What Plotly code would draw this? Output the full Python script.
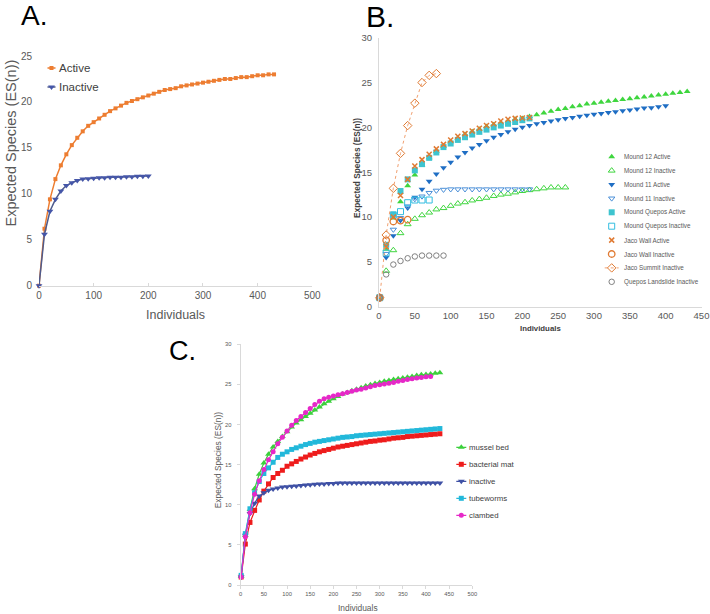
import plotly.graph_objects as go

W, H = 710, 614
FONT = "Liberation Sans, Arial, sans-serif"

# ---------------- Panel A data ----------------
A_X = [0, 10, 20, 30, 40, 50, 60, 70, 80, 90, 100, 110, 120, 130, 140, 150, 160, 170, 180, 190,
       200, 210, 220, 230, 240, 250, 260, 270, 280, 290, 300, 310, 320, 330, 340, 350, 360, 370,
       380, 390, 400, 410, 420, 430]
A_ACTIVE = [0, 6.2, 9.4, 11.6, 13.1, 14.3, 15.3, 16.1, 16.8, 17.4, 17.8, 18.2, 18.6, 19.0, 19.3,
            19.6, 19.9, 20.1, 20.3, 20.5, 20.7, 20.9, 21.1, 21.3, 21.4, 21.5, 21.7, 21.8, 21.9,
            22.0, 22.1, 22.2, 22.3, 22.4, 22.5, 22.5, 22.6, 22.7, 22.7, 22.8, 22.9, 22.9, 23.0, 23.0]
A_INACTIVE = [0, 5.6, 8.1, 9.4, 10.3, 10.9, 11.2, 11.45, 11.6, 11.65, 11.7, 11.75, 11.75, 11.8,
              11.8, 11.8, 11.85, 11.85, 11.9, 11.9, 11.95]
A_LABELS = ["Active", "Inactive"]

# ---------------- Panel B data ----------------
B_X = [1, 10, 20, 30, 40, 50, 60, 70, 80, 90, 100, 110, 120, 130, 140, 150, 160, 170, 180, 190,
       200, 210, 220, 230, 240, 250, 260, 270, 280, 290, 300, 310, 320, 330, 340, 350, 360, 370,
       380, 390, 400, 410, 420, 430]
B_M12_ACTIVE = [1, 6.4, 9.9, 11.7, 13.5, 14.7, 15.8, 16.6, 17.3, 17.9, 18.4, 18.8, 19.2, 19.5,
                19.8, 20.1, 20.3, 20.5, 20.7, 20.9, 21.0, 21.2, 21.4, 21.6, 21.8, 22.0, 22.1,
                22.3, 22.4, 22.6, 22.7, 22.8, 22.9, 23.0, 23.1, 23.2, 23.3, 23.4, 23.5, 23.6,
                23.7, 23.8, 23.9, 24.0]
B_M12_INACTIVE = [1, 4.0, 6.3, 8.2, 9.2, 9.8, 10.2, 10.5, 10.85, 11.0, 11.25, 11.5, 11.65, 11.85,
                  12.0, 12.15, 12.35, 12.5, 12.6, 12.75, 12.9, 13.0, 13.1, 13.2, 13.3, 13.3, 13.3]
B_M11_ACTIVE = [1, 5.5, 7.9, 9.6, 11.0, 12.2, 13.1, 14.0, 14.8, 15.5, 16.1, 16.7, 17.2, 17.7,
                18.1, 18.5, 18.9, 19.2, 19.5, 19.8, 20.0, 20.2, 20.4, 20.55, 20.7, 20.85, 21.0,
                21.1, 21.25, 21.35, 21.45, 21.55, 21.65, 21.75, 21.85, 21.95, 22.05, 22.15, 22.2,
                22.3, 22.4]
B_M11_INACTIVE = [1, 5.9, 8.6, 9.9, 11.2, 12.0, 12.3, 12.7, 12.95, 13.05, 13.1, 13.1, 13.1, 13.1,
                  13.1, 13.1, 13.1, 13.1, 13.1, 13.1, 13.1, 13.1]
B_MQ_ACTIVE = [1, 6.9, 10.3, 12.9, 14.2, 15.2, 15.9, 16.6, 17.2, 17.8, 18.2, 18.6, 18.9, 19.2,
               19.5, 19.75, 20.0, 20.2, 20.4, 20.6, 20.8, 21.0]
B_MQ_INACTIVE = [1, 6.0, 10.2, 10.6, 11.6, 11.9, 11.9, 11.9]
B_JW_ACTIVE = [1, 6.7, 10.0, 12.4, 14.2, 15.7, 16.4, 17.0, 17.6, 18.1, 18.6, 19.0, 19.3, 19.6,
               19.9, 20.2, 20.4, 20.7, 20.9, 21.0, 21.05, 21.1]
B_JW_INACTIVE = [1, 7.4, 9.5, 9.6, 9.7]
B_JS_INACTIVE = [1, 8.0, 13.2, 17.1, 20.2, 22.7, 25.0, 25.8, 26.0]
B_QL_INACTIVE = [1, 3.6, 4.7, 5.1, 5.4, 5.6, 5.7, 5.7, 5.7, 5.7]
B_LABELS = ["Mound 12 Active", "Mound 12 Inactive", "Mound 11 Active", "Mound 11 Inactive",
            "Mound Quepos Active", "Mound Quepos Inactive", "Jaco Wall Active",
            "Jaco Wall Inactive", "Jaco Summit Inactive", "Quepos Landslide Inactive"]

# ---------------- Panel C data ----------------
C_X = B_X
C_MUSSEL = [1.1, 6.2, 9.4, 12.0, 13.8, 15.2, 16.3, 17.2, 17.9, 18.5, 19.1, 19.7, 20.2, 20.6,
            21.0, 21.4, 21.8, 22.2, 22.6, 22.9, 23.2, 23.5, 23.8, 24.0, 24.2, 24.4, 24.6, 24.8,
            24.95, 25.1, 25.25, 25.4, 25.5, 25.6, 25.7, 25.8, 25.9, 26.0, 26.1, 26.2, 26.25,
            26.3, 26.4, 26.45]
C_BACTERIAL = [1.0, 5.1, 7.8, 9.3, 10.6, 11.7, 12.6, 13.4, 13.9, 14.3, 14.8, 15.1, 15.4, 15.7,
               15.95, 16.2, 16.4, 16.6, 16.75, 16.9, 17.05, 17.2, 17.3, 17.4, 17.5, 17.6, 17.7,
               17.8, 17.9, 17.95, 18.05, 18.1, 18.2, 18.3, 18.35, 18.4, 18.5, 18.55, 18.6, 18.65,
               18.7, 18.75, 18.8, 18.85]
C_INACTIVE = [1.0, 6.2, 8.9, 10.2, 11.1, 11.5, 11.8, 11.95, 12.1, 12.2, 12.25, 12.3, 12.35, 12.4,
              12.45, 12.5, 12.55, 12.6, 12.6, 12.65, 12.65, 12.7, 12.7, 12.7, 12.7, 12.7, 12.7,
              12.7, 12.7, 12.7, 12.7, 12.7, 12.7, 12.7, 12.7, 12.7, 12.7, 12.7, 12.7, 12.7, 12.7,
              12.7, 12.7, 12.7]
C_TUBEWORMS = [1.2, 6.4, 9.5, 11.5, 12.9, 13.9, 14.6, 15.3, 15.9, 16.3, 16.6, 16.9, 17.1, 17.3,
               17.5, 17.65, 17.8, 17.9, 18.0, 18.1, 18.2, 18.3, 18.4, 18.45, 18.5, 18.6, 18.65,
               18.7, 18.75, 18.8, 18.85, 18.9, 18.95, 19.0, 19.05, 19.1, 19.15, 19.2, 19.25, 19.3,
               19.35, 19.4, 19.45, 19.5]
C_CLAMBED = [1.0, 6.0, 9.0, 11.3, 13.0, 14.4, 15.6, 16.6, 17.6, 18.4, 19.2, 19.9, 20.5, 21.0,
             21.5, 22.0, 22.5, 22.9, 23.2, 23.4, 23.55, 23.7, 23.85, 24.0, 24.15, 24.3, 24.4,
             24.55, 24.7, 24.85, 24.95, 25.05, 25.15, 25.25, 25.4, 25.5, 25.6, 25.7, 25.8, 25.85,
             25.95, 26.0]
C_LABELS = ["mussel bed", "bacterial mat", "inactive", "tubeworms", "clambed"]


def fx(px):
    return px / W


def fy(py):
    return 1 - py / H


def mk(symbol, color, size, lw=1.0):
    return dict(symbol=symbol, color=color, size=size, line=dict(width=lw, color=color))


# styles (marker, line or None)
A_STYLES = [
    (mk("square", "#ED7D31", 4, 0), dict(color="#ED7D31", width=1.5)),
    (mk("triangle-down", "#4556A8", 6, 0), dict(color="#4F5B8C", width=1.5)),
]
GREEN, BLUE1, BLUE2, CYAN1, CYAN2, ORANGE, GREY = ("#3FD63F", "#1F6EC4", "#4A8FD8", "#3EC4CF",
                                                   "#33BDE0", "#E07A32", "#808080")
B_STYLES = [
    (mk("triangle-up", GREEN, 6, 0), None),
    (mk("triangle-up-open", GREEN, 6), None),
    (mk("triangle-down", BLUE1, 6, 0), None),
    (mk("triangle-down-open", BLUE2, 5.5), None),
    (mk("square", CYAN1, 6, 0), None),
    (mk("square-open", CYAN2, 6), None),
    (mk("x-thin-open", ORANGE, 5, 1.5), None),
    (mk("circle-open", ORANGE, 6.5, 1.3), None),
    (mk("diamond-open", ORANGE, 6.5), dict(color="#F0A070", width=1, dash="dot")),
    (mk("circle-open", GREY, 5.5), None),
]
B_SERIES = [B_M12_ACTIVE, B_M12_INACTIVE, B_M11_ACTIVE, B_M11_INACTIVE, B_MQ_ACTIVE,
            B_MQ_INACTIVE, B_JW_ACTIVE, B_JW_INACTIVE, B_JS_INACTIVE, B_QL_INACTIVE]
C_STYLES = [
    (mk("triangle-up", "#3CD03C", 6, 0), dict(color="#3CD03C", width=1.2)),
    (mk("square", "#EE1C1C", 5, 0), dict(color="#EE1C1C", width=1.2)),
    (mk("triangle-down", "#3F51A5", 6, 0), dict(color="#3F51A5", width=1.2)),
    (mk("square", "#22B8DA", 5, 0), dict(color="#22B8DA", width=1.2)),
    (mk("circle", "#E628C8", 5, 0), dict(color="#E628C8", width=1.2)),
]
C_SERIES = [C_MUSSEL, C_BACTERIAL, C_INACTIVE, C_TUBEWORMS, C_CLAMBED]

fig = go.Figure()

# ---- Panel A traces ----
for lab, ys, (m, ln) in zip(A_LABELS, [A_ACTIVE, A_INACTIVE], A_STYLES):
    fig.add_trace(go.Scatter(x=A_X[:len(ys)], y=ys, name=lab, mode="lines+markers", marker=m,
                             line=ln, xaxis="x", yaxis="y", cliponaxis=False, showlegend=False))

# ---- Panel B traces ----
for lab, ys, (m, ln) in zip(B_LABELS, B_SERIES, B_STYLES):
    fig.add_trace(go.Scatter(x=B_X[:len(ys)], y=ys, name=lab,
                             mode="lines+markers" if ln else "markers", marker=m,
                             line=ln if ln else None, xaxis="x2", yaxis="y2", cliponaxis=False,
                             showlegend=False))

# ---- Panel C traces ----
for lab, ys, (m, ln) in zip(C_LABELS, C_SERIES, C_STYLES):
    fig.add_trace(go.Scatter(x=C_X[:len(ys)], y=ys, name=lab, mode="lines+markers", marker=m,
                             line=ln, xaxis="x3", yaxis="y3", cliponaxis=False, showlegend=False))

annotations = []


def add_legend(idx, labels, styles, y0, dy, cx, tx, fsize, half, color):
    n = len(labels)
    fig.layout[f"xaxis{idx}"] = dict(domain=[fx(cx - 15), fx(cx + 15)], range=[-15, 15],
                                     visible=False, fixedrange=True, anchor=f"y{idx}",
                                     automargin=False)
    fig.layout[f"yaxis{idx}"] = dict(domain=[fy(y0 + (n - 0.5) * dy), fy(y0 - 0.5 * dy)],
                                     range=[n - 0.5, -0.5], visible=False, fixedrange=True,
                                     anchor=f"x{idx}", automargin=False)
    for i, (lab, (m, ln)) in enumerate(zip(labels, styles)):
        if ln is not None:
            fig.add_trace(go.Scatter(x=[-half, half], y=[i, i], mode="lines", line=ln,
                                     xaxis=f"x{idx}", yaxis=f"y{idx}", showlegend=False,
                                     hoverinfo="skip", cliponaxis=False))
        fig.add_trace(go.Scatter(x=[0], y=[i], mode="markers", marker=m, xaxis=f"x{idx}",
                                 yaxis=f"y{idx}", showlegend=False, hoverinfo="skip",
                                 cliponaxis=False))
        annotations.append(dict(text=lab, x=fx(tx), xref="paper", y=i, yref=f"y{idx}",
                                xanchor="left", yanchor="middle", showarrow=False,
                                font=dict(size=fsize, color=color, family=FONT)))


add_legend(4, A_LABELS, A_STYLES, 68, 19, 51.5, 56.5, 11.5, 4, "#404040")
add_legend(5, B_LABELS, B_STYLES, 156.7, 13.9, 611.7, 621.5, 6.3, 7, "#595959")
add_legend(6, C_LABELS, C_STYLES, 447.3, 17, 461.3, 466.5, 7.8, 5, "#404040")

TICK = "#595959"
LINE = "#D9D9D9"

fig.update_layout(
    width=W, height=H, margin=dict(l=0, r=0, t=0, b=0, pad=0), autosize=False,
    paper_bgcolor="white", plot_bgcolor="rgba(0,0,0,0)",
    font=dict(family=FONT, color=TICK),
    showlegend=False,
    xaxis=dict(domain=[fx(39), fx(312.3)], range=[0, 500], dtick=100, tick0=0, anchor="y",
               showline=True, linecolor=LINE, ticks="inside", ticklen=3, tickcolor=LINE,
               showgrid=False, zeroline=False, automargin=False,
               tickfont=dict(size=10, color=TICK)),
    yaxis=dict(domain=[fy(285.7), fy(56)], range=[0, 25], dtick=5, tick0=0, anchor="x",
               showline=False, showgrid=False, zeroline=False, ticks="", automargin=False,
               ticklabelstandoff=6, tickfont=dict(size=10, color=TICK)),
    xaxis2=dict(domain=[fx(379), fx(701.5)], range=[0, 450], dtick=50, tick0=0, anchor="y2",
                showline=True, linecolor=LINE, ticks="", showgrid=False, zeroline=False,
                automargin=False, tickfont=dict(size=9.5, color=TICK)),
    yaxis2=dict(domain=[fy(306.7), fy(37.7)], range=[0, 30], dtick=5, tick0=0, anchor="x2",
                showline=True, linecolor=LINE, ticks="", showgrid=False, zeroline=False,
                automargin=False, ticklabelstandoff=4, tickfont=dict(size=9.5, color=TICK)),
    xaxis3=dict(domain=[fx(240.7), fx(472.3)], range=[0, 500], dtick=50, tick0=0, anchor="y3",
                showline=True, linecolor=LINE, ticks="outside", ticklen=3, tickcolor=LINE,
                showgrid=False, zeroline=False, automargin=False,
                tickfont=dict(size=5.8, color=TICK)),
    yaxis3=dict(domain=[fy(585), fy(344.3)], range=[0, 30], dtick=5, tick0=0, anchor="x3",
                showline=True, linecolor=LINE, ticks="outside", ticklen=3, tickcolor=LINE,
                showgrid=False, zeroline=False, ticklabelstandoff=4, automargin=False,
                tickfont=dict(size=5.8, color=TICK)),
)


def title(text, px, py, size, color="#595959", angle=0, anchor="center"):
    annotations.append(dict(text=text, x=fx(px), y=fy(py), xref="paper", yref="paper",
                            xanchor=anchor, yanchor="middle", showarrow=False, textangle=angle,
                            font=dict(size=size, color=color, family=FONT)))


title("A.", 19, 15, 28, "black", anchor="left")
title("B.", 364, 16, 30, "black", anchor="left")
title("C.", 167, 351, 27, "black", anchor="left")
title("Expected Species (ES(n))", 10, 143.5, 14.5, angle=-90)
title("Individuals", 175.6, 315, 12.5)
title("<b>Expected Species (ES(n))</b>", 357, 168, 8.3, "#404040", angle=-90)
title("<b>Individuals</b>", 540, 328, 7.8, "#404040")
title("Expected Species (ES(n))", 218.3, 460, 8.4, angle=-90)
title("Individuals", 358, 608, 8.4)

fig.update_layout(annotations=annotations)
fig.write_html("out.html", config={"displayModeBar": False},
               post_script="document.body.style.margin='0px';"
                           "document.body.style.overflow='hidden';")
